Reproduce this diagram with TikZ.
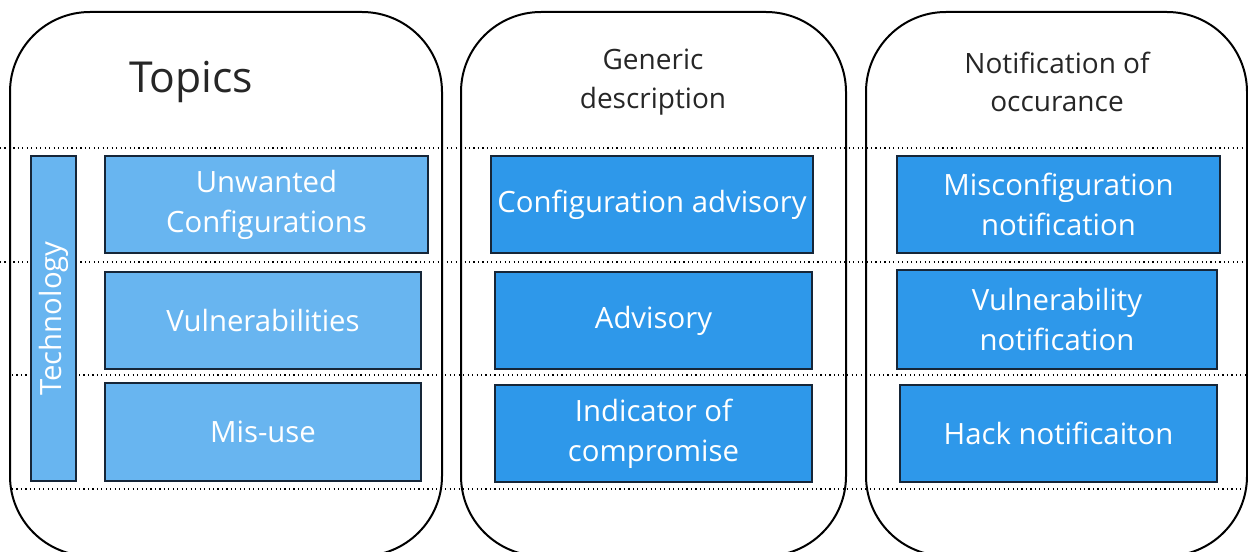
\documentclass[tikz,border=0pt]{standalone}
\usepackage{fontspec}
\setmainfont{Open Sans}

\definecolor{lightcell}{RGB}{104,181,240}
\definecolor{darkcell}{RGB}{46,152,234}
\definecolor{cellline}{RGB}{22,38,56}

\tikzset{every picture/.style={line width=0.75pt}}
\tikzset{
  column/.style={line width=1.5pt, rounded corners=60pt},
  rowline/.style={line width=1pt, dash pattern={on 0.84pt off 2.51pt}},
  cell/.style={draw=cellline, line width=1.5pt, text=white, align=center, inner sep=0pt,
    font=\fontsize{22}{30}\selectfont},
  topiccell/.style={cell, fill=lightcell},
  infocell/.style={cell, fill=darkcell},
  heading/.style={align=center, text=black!85, font=\fontsize{21}{29}\selectfont}
}

\begin{document}
\begin{tikzpicture}[x=0.75pt,y=0.75pt,yscale=-1,xscale=1]
\useasboundingbox (0,0) rectangle (1248,552);
\clip (0,0) rectangle (1248,552);

%Shape: Rounded Rect (columns)
\draw [column] (10,12) rectangle (442,556);
\draw [column] (461,12) rectangle (846,556);
\draw [column] (866,12) rectangle (1247,556);

%Straight Lines (rows)
\draw [rowline] (0,148) -- (1248,148);
\draw [rowline] (0,262) -- (1248,262);
\draw [rowline] (12,375) -- (1248,375);
\draw [rowline] (12,489) -- (1248,489);

% Text Node
\node [font=\fontsize{32}{38}\selectfont, text=black!85] (topics) at (191,82) {Topics};
\node [heading] (generic) at (653,82) {Generic\\description};
\node [heading] (notif) at (1057,82) {Notification of\\occurance};

%Shape: Rectangle (topics column)
\node [topiccell, minimum width=243.75pt, minimum height=33.75pt, rotate=90] (tech) at (53.5,318.5) {Technology};
\node [topiccell, minimum width=242.25pt, minimum height=72.75pt] (unwanted) at (266.5,204.5) {Unwanted\\Configurations};
\node [topiccell, minimum width=237pt, minimum height=72.75pt] (vulns) at (263,320.5) {Vulnerabilities};
\node [topiccell, minimum width=237pt, minimum height=73.5pt] (misuse) at (263,432) {Mis-use};

%Shape: Rectangle (generic column)
\node [infocell, minimum width=241.5pt, minimum height=72.75pt] (cfgadv) at (652,204.5) {Configuration advisory};
\node [infocell, minimum width=237.75pt, minimum height=72.75pt] (advisory) at (653.5,320.5) {Advisory};
\node [infocell, minimum width=237.75pt, minimum height=72.75pt] (ioc) at (653.5,433.5) {Indicator of\\compromise};

%Shape: Rectangle (notification column)
\node [infocell, minimum width=242.25pt, minimum height=72.75pt] (misnotif) at (1058.5,204.5) {Misconfiguration\\notification};
\node [infocell, minimum width=240pt, minimum height=74.25pt] (vulnotif) at (1057,319.5) {Vulnerability\\notification};
\node [infocell, minimum width=237.75pt, minimum height=72.75pt] (hacknotif) at (1058.5,433.5) {Hack notificaiton};

\end{tikzpicture}
\end{document}
